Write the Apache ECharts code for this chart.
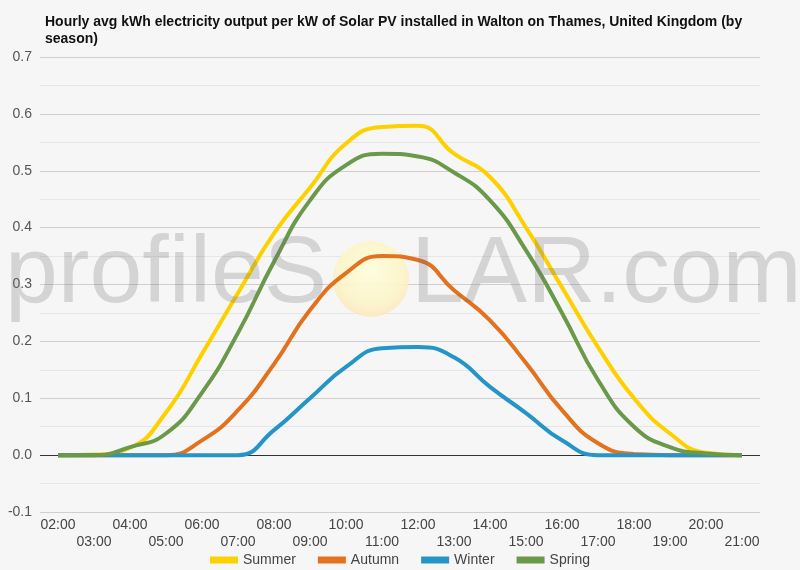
<!DOCTYPE html>
<html>
<head>
<meta charset="utf-8">
<script src="https://cdn.jsdelivr.net/npm/echarts@6/dist/echarts.min.js"></script>
<style>
html,body{margin:0;padding:0;background:#f6f6f6;}
#chart{width:800px;height:570px;}
</style>
</head>
<body>
<div id="chart"></div>
<script>
const hours = ['02:00','03:00','04:00','05:00','06:00','07:00','08:00','09:00','10:00','11:00','12:00','13:00','14:00','15:00','16:00','17:00','18:00','19:00','20:00','21:00'];
const summer = [0, 0.001, 0.013, 0.075, 0.178, 0.285, 0.39, 0.47, 0.548, 0.577, 0.579, 0.53, 0.489, 0.40, 0.295, 0.19, 0.10, 0.038, 0.004, 0];
const autumn = [0, 0, 0, 0, 0.026, 0.079, 0.16, 0.255, 0.32, 0.35, 0.343, 0.29, 0.237, 0.162, 0.079, 0.021, 0.002, 0, 0, 0];
const winter = [0, 0, 0, 0, 0, 0, 0.044, 0.10, 0.155, 0.188, 0.19, 0.172, 0.12, 0.074, 0.026, 0, 0, 0, 0, 0];
const spring = [0, 0, 0.014, 0.038, 0.11, 0.215, 0.34, 0.448, 0.51, 0.53, 0.525, 0.497, 0.448, 0.36, 0.25, 0.132, 0.05, 0.014, 0.003, 0];
const yTicks = {min: -0.1, max: 0.7, interval: 0.1};

const chart = echarts.init(document.getElementById('chart'));
const FONT = '"Liberation Sans", Arial, sans-serif';
function line(name, data, color, extra) {
  return Object.assign({
    name, type: 'line', data, smooth: 0.5, symbol: 'none',
    lineStyle: {width: 4, color}, itemStyle: {color}, z: 3
  }, extra || {});
}
chart.setOption({
  backgroundColor: '#f6f6f6',
  textStyle: {fontFamily: FONT},
  title: {
    text: 'Hourly avg kWh electricity output per kW of Solar PV installed in Walton on Thames, United Kingdom (by\nseason)',
    left: 40, top: 9,
    textStyle: {fontSize: 14, fontWeight: 'bold', color: '#111', lineHeight: 17, fontFamily: FONT}
  },
  grid: {left: 40, right: 40, top: 57, bottom: 58},
  legend: {
    bottom: -2, left: 'center', icon: 'rect', itemWidth: 28, itemHeight: 7, itemGap: 22,
    textStyle: {fontSize: 14, color: '#444', fontFamily: FONT},
    data: ['Summer', 'Autumn', 'Winter', 'Spring']
  },
  xAxis: {
    type: 'category', data: hours, boundaryGap: true,
    axisLine: {show: false}, axisTick: {show: false}, splitLine: {show: false},
    axisLabel: {
      interval: 0, margin: 5, fontSize: 14, color: '#444', lineHeight: 17, verticalAlign: 'top',
      formatter: (v, i) => (i % 2 === 1 ? '\n' + v : v)
    }
  },
  yAxis: {
    type: 'value', min: yTicks.min, max: yTicks.max, interval: yTicks.interval,
    axisLine: {show: false}, axisTick: {show: false},
    axisLabel: {fontSize: 14, color: '#555', margin: 8, formatter: v => v.toFixed(1)},
    splitLine: {lineStyle: {color: '#cfcfcf', width: 1}},
    minorTick: {show: false, splitNumber: 2},
    minorSplitLine: {show: true, lineStyle: {color: '#e6e6e6', width: 1}}
  },
  graphic: [
    {type: 'circle', shape: {cx: 371, cy: 279, r: 38}, z: 1, silent: true,
     style: {fill: {type: 'radial', x: 0.5, y: 0.4, r: 0.6, colorStops: [
       {offset: 0, color: 'rgba(255,253,222,0.95)'},
       {offset: 0.7, color: 'rgba(252,245,200,0.9)'},
       {offset: 1, color: 'rgba(250,232,190,0.85)'}]}}},
    {type: 'text', x: 5, y: 276, z: 10, silent: true,
     style: {text: 'profileS', font: '95px "Liberation Sans", Arial, sans-serif', fill: 'rgba(110,110,110,0.25)', textVerticalAlign: 'middle'}},
    {type: 'text', x: 411, y: 276, z: 10, silent: true,
     style: {text: 'LAR.com', font: '95px "Liberation Sans", Arial, sans-serif', fill: 'rgba(110,110,110,0.25)', textVerticalAlign: 'middle'}}
  ],
  series: [
    line('Summer', summer, '#fdd100', {
      markLine: {silent: true, symbol: 'none', label: {show: false},
        lineStyle: {color: '#333', width: 1, type: 'solid'}, data: [{yAxis: 0}], z: 2}
    }),
    line('Autumn', autumn, '#e2721f'),
    line('Winter', winter, '#2495c6'),
    line('Spring', spring, '#6a994a')
  ]
});
</script>
</body>
</html>
